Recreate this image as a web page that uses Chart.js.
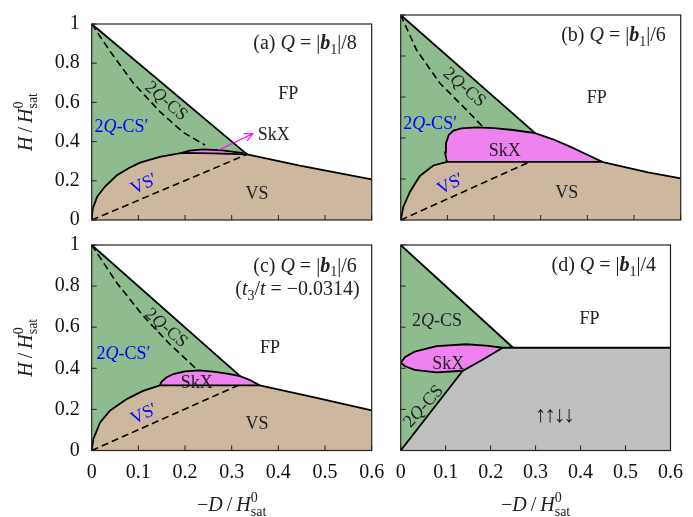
<!DOCTYPE html>
<html lang="en">
<head>
<meta charset="UTF-8">
<title>Phase diagrams</title>
<script src="https://cdn.jsdelivr.net/npm/chart.js"></script>
<style>
  body { margin: 0; background: #fff; }
  .panel { position: absolute; left: 0; top: 0; width: 693px; height: 517px; }
</style>
</head>
<body>
<div class="panel"><canvas id="pa"></canvas></div>
<div class="panel"><canvas id="pb"></canvas></div>
<div class="panel"><canvas id="pc"></canvas></div>
<div class="panel"><canvas id="pd"></canvas></div>
<script>
// axes
const X_MAX = 0.6, Y_MAX = 1;
const xTickLabels = ['0', '0.1', '0.2', '0.3', '0.4', '0.5', '0.6'];
const yTickLabels = ['0', '0.2', '0.4', '0.6', '0.8', '1'];

// (a) Q = |b1|/8  -- phase boundaries as [-D/Hsat, H/Hsat]
const aFpLine = [[0, 1], [0.333, 0.335]];
const aVsTop = [[0, 0], [0.002, 0.057], [0.012, 0.12], [0.0286, 0.171], [0.054, 0.228], [0.08, 0.265],
                [0.1036, 0.293], [0.146, 0.322], [0.193, 0.342], [0.26, 0.34], [0.333, 0.335]];
const aVsFp = [[0.333, 0.335], [0.446, 0.277], [0.6, 0.207]];
const aSkx = [[0.193, 0.342], [0.21, 0.354], [0.239, 0.36], [0.28, 0.355], [0.325, 0.341]];
const aDashUp = [[0, 1], [0.039, 0.862], [0.089, 0.699], [0.146, 0.553], [0.196, 0.447], [0.243, 0.382]];
const aDashLow = [[0, 0], [0.333, 0.335]];
const aArrow = [[0.272, 0.357], [0.345, 0.44]];

// (b) Q = |b1|/6
const bFpLine = [[0, 1], [0.288, 0.424]];
const bVsTop = [[0, 0], [0.0057, 0.065], [0.02, 0.138], [0.041, 0.215], [0.07, 0.266], [0.099, 0.284], [0.431, 0.284]];
const bVsFp = [[0.431, 0.284], [0.53, 0.232], [0.6, 0.203]];
const bSkx = [[0.099, 0.284], [0.095, 0.33], [0.097, 0.374], [0.103, 0.415], [0.113, 0.436], [0.13, 0.447],
              [0.163, 0.452], [0.2, 0.448], [0.241, 0.439], [0.288, 0.424], [0.325, 0.395], [0.363, 0.358],
              [0.4, 0.318], [0.431, 0.285]];
const bDashUp = [[0, 1], [0.034, 0.829], [0.084, 0.667], [0.141, 0.537], [0.177, 0.452]];
const bDashLow = [[0, 0], [0.277, 0.284]];

// (c) Q = |b1|/6, t3/t = -0.0314
const cFpLine = [[0, 1], [0.318, 0.362]];
const cVsTop = [[0, 0], [0.0036, 0.056], [0.018, 0.137], [0.039, 0.194], [0.075, 0.25], [0.11, 0.29],
                [0.146, 0.317], [0.36, 0.317]];
const cVsFp = [[0.36, 0.317], [0.47, 0.262], [0.6, 0.195]];
const cSkx = [[0.146, 0.317], [0.15, 0.335], [0.16, 0.355], [0.175, 0.372], [0.2, 0.385], [0.23, 0.39],
              [0.26, 0.384], [0.29, 0.374], [0.318, 0.362], [0.34, 0.342], [0.36, 0.317]];
const cDashUp = [[0, 1], [0.054, 0.815], [0.111, 0.653], [0.168, 0.516], [0.225, 0.395]];
const cDashLow = [[0, 0], [0.314, 0.317]];

// (d) Q = |b1|/4
const dFpLine = [[0, 1], [0.25, 0.5]];
const dUddLine = [[0.227, 0.5], [0.6, 0.5]];
const dUddLeft = [[0, 0], [0.138, 0.388]];
const dSkxUpper = [[0, 0.427], [0.01, 0.455], [0.031, 0.481], [0.08, 0.508], [0.145, 0.517], [0.19, 0.51], [0.227, 0.5]];
const dSkxLower = [[0, 0.427], [0.01, 0.41], [0.031, 0.392], [0.08, 0.38], [0.138, 0.388], [0.181, 0.44], [0.227, 0.5]];

const GREEN = '#8fbc8f', TAN = '#cdb89f', PINK = '#ee82ee', GRAY = '#c0c0c0';
const BLUE = '#0000ff', INK = '#222';
const SERIF = '"Liberation Serif", "Times New Roman", "DejaVu Serif", serif';

// text labels (data coordinates)
const aLabels = [
  { x: 0.568, y: 0.905, size: 20, align: 'right', parts: [['(a) '], ['Q', 'i'], [' = |'], ['b', 'bi'], ['1', 'sub'], ['|/8']] },
  { x: 0.421, y: 0.647, parts: [['FP']] },
  { x: 0.161, y: 0.61, angle: 41, parts: [['2'], ['Q', 'i'], ['-CS']] },
  { x: 0.064, y: 0.48, color: BLUE, parts: [['2'], ['Q', 'i'], ['-CS\u2032']] },
  { x: 0.111, y: 0.187, angle: -26, color: BLUE, parts: [['VS\u2032']] },
  { x: 0.354, y: 0.138, parts: [['VS']] },
  { x: 0.39, y: 0.44, parts: [['SkX']] }
];
const bLabels = [
  { x: 0.568, y: 0.905, size: 20, align: 'right', parts: [['(b) '], ['Q', 'i'], [' = |'], ['b', 'bi'], ['1', 'sub'], ['|/6']] },
  { x: 0.42, y: 0.6, parts: [['FP']] },
  { x: 0.138, y: 0.65, angle: 41, parts: [['2'], ['Q', 'i'], ['-CS']] },
  { x: 0.063, y: 0.472, color: BLUE, parts: [['2'], ['Q', 'i'], ['-CS\u2032']] },
  { x: 0.223, y: 0.341, parts: [['SkX']] },
  { x: 0.106, y: 0.179, angle: -27, color: BLUE, parts: [['VS\u2032']] },
  { x: 0.356, y: 0.138, parts: [['VS']] }
];
const cLabels = [
  { x: 0.457, y: 0.903, size: 20, parts: [['(c) '], ['Q', 'i'], [' = |'], ['b', 'bi'], ['1', 'sub'], ['|/6']] },
  { x: 0.441, y: 0.79, size: 20, parts: [['('], ['t', 'i'], ['3', 'sub'], ['/'], ['t', 'i'], [' = \u22120.0314)']] },
  { x: 0.382, y: 0.505, parts: [['FP']] },
  { x: 0.161, y: 0.6, angle: 41, parts: [['2'], ['Q', 'i'], ['-CS']] },
  { x: 0.068, y: 0.473, color: BLUE, parts: [['2'], ['Q', 'i'], ['-CS\u2032']] },
  { x: 0.225, y: 0.335, parts: [['SkX']] },
  { x: 0.111, y: 0.181, angle: -26, color: BLUE, parts: [['VS\u2032']] },
  { x: 0.354, y: 0.132, parts: [['VS']] }
];
const dLabels = [
  { x: 0.568, y: 0.905, size: 20, align: 'right', parts: [['(d) '], ['Q', 'i'], [' = |'], ['b', 'bi'], ['1', 'sub'], ['|/4']] },
  { x: 0.42, y: 0.645, parts: [['FP']] },
  { x: 0.081, y: 0.637, parts: [['2'], ['Q', 'i'], ['-CS']] },
  { x: 0.049, y: 0.218, angle: -48, parts: [['2'], ['Q', 'i'], ['-CS']] },
  { x: 0.106, y: 0.427, parts: [['SkX']] },
  { x: 0.341, y: 0.178, size: 23, spacing: '-2px', parts: [['\u2191\u2191\u2193\u2193']] }
];
const yTitleParts = [['H', 'i'], ['\u2009/\u2009'], ['H', 'i'], [['0', 'sat'], 'ss']];
const xTitleParts = [['\u2212'], ['D', 'i'], ['\u2009/\u2009'], ['H', 'i'], [['0', 'sat'], 'ss']];

const pts = arr => arr.map(([x, y]) => ({ x, y }));
const rev = arr => arr.slice().reverse();

function region(data, color, order) {
  return { data: pts(data), showLine: true, fill: 'shape', backgroundColor: color,
           borderColor: 'rgba(0,0,0,0)', borderWidth: 0, pointRadius: 0, tension: 0, order };
}
function edge(data, dashed) {
  return { data: pts(data), showLine: true, fill: false, borderColor: '#000',
           borderWidth: dashed ? 1.6 : 1.8, borderDash: dashed ? [7, 4] : [],
           pointRadius: 0, tension: 0, order: 1 };
}

function fontFor(style, size) {
  const s = (style === 'sub' || style === 'sup' || style === 'ss') ? size * 0.7 : size;
  const f = style === 'i' ? 'italic ' : style === 'bi' ? 'italic bold ' : '';
  return f + s + 'px ' + SERIF;
}
function measure(ctx, p, size) {
  const [t, st] = p;
  ctx.font = fontFor(st, size);
  if (st === 'ss') return Math.max(ctx.measureText(t[0]).width, ctx.measureText(t[1]).width);
  return ctx.measureText(t).width;
}
function drawRich(ctx, parts, x, y, o) {
  const size = o.size || 18;
  ctx.save();
  ctx.translate(x, y);
  ctx.rotate((o.angle || 0) * Math.PI / 180);
  ctx.fillStyle = o.color || INK;
  ctx.textBaseline = 'alphabetic';
  ctx.textAlign = 'left';
  ctx.letterSpacing = o.spacing || '0px';
  const total = parts.reduce((w, p) => w + measure(ctx, p, size), 0);
  let cx = o.align === 'right' ? -total : o.align === 'left' ? 0 : -total / 2;
  const base = size * 0.33;
  for (const p of parts) {
    const [t, st] = p;
    const w = measure(ctx, p, size);
    if (st === 'ss') {
      ctx.fillText(t[0], cx, base - size * 0.42);
      ctx.fillText(t[1], cx, base + size * 0.26);
    } else {
      const dy = st === 'sub' ? size * 0.24 : st === 'sup' ? -size * 0.42 : 0;
      ctx.fillText(t, cx, base + dy);
    }
    cx += w;
  }
  ctx.restore();
}

function decoPlugin(deco) {
  return {
    id: 'deco',
    afterDraw(chart) {
      const { ctx, chartArea: a, scales: { x, y } } = chart;
      ctx.save();
      ctx.strokeStyle = INK;
      ctx.lineWidth = 1;
      x.ticks.forEach((t, i) => {
        const px = x.getPixelForTick(i);
        ctx.beginPath(); ctx.moveTo(px, a.bottom); ctx.lineTo(px, a.bottom - 5); ctx.stroke();
      });
      y.ticks.forEach((t, i) => {
        const py = y.getPixelForTick(i);
        ctx.beginPath(); ctx.moveTo(a.left, py); ctx.lineTo(a.left + 5, py); ctx.stroke();
      });
      ctx.lineWidth = 1.2;
      ctx.strokeRect(a.left, a.top, a.right - a.left, a.bottom - a.top);

      if (deco.arrow) {
        const [p0, p1] = deco.arrow.map(([vx, vy]) => [x.getPixelForValue(vx), y.getPixelForValue(vy)]);
        const ang = Math.atan2(p1[1] - p0[1], p1[0] - p0[0]);
        ctx.strokeStyle = '#ff00ff';
        ctx.lineWidth = 1.2;
        ctx.beginPath();
        ctx.moveTo(p0[0], p0[1]); ctx.lineTo(p1[0], p1[1]);
        ctx.moveTo(p1[0] - 9 * Math.cos(ang - 0.45), p1[1] - 9 * Math.sin(ang - 0.45));
        ctx.lineTo(p1[0], p1[1]);
        ctx.lineTo(p1[0] - 9 * Math.cos(ang + 0.45), p1[1] - 9 * Math.sin(ang + 0.45));
        ctx.stroke();
      }
      deco.labels.forEach(l => drawRich(ctx, l.parts, x.getPixelForValue(l.x), y.getPixelForValue(l.y), l));
      if (deco.showY) drawRich(ctx, yTitleParts, 25, (a.top + a.bottom) / 2, { size: 20, angle: -90 });
      if (deco.showX) drawRich(ctx, xTitleParts, (a.left + a.right) / 2, 504, { size: 20 });
      ctx.restore();
    }
  };
}

function makePanel(id, box, datasets, deco) {
  const yW = 60, xH = 40;
  new Chart(document.getElementById(id), {
    type: 'scatter',
    data: { datasets },
    options: {
      responsive: true,
      maintainAspectRatio: false,
      animation: false,
      events: [],
      layout: { padding: { left: box.l - yW, top: box.t, right: 693 - box.r, bottom: 517 - box.b - xH } },
      plugins: { legend: { display: false }, tooltip: { enabled: false } },
      scales: {
        x: {
          type: 'linear', min: 0, max: X_MAX,
          afterFit: s => { s.height = xH; },
          grid: { display: false, drawTicks: false },
          border: { display: false },
          ticks: { display: deco.showX, stepSize: 0.1, padding: 10, color: '#111', maxRotation: 0, autoSkip: false,
                   font: { family: SERIF, size: 20 }, callback: (v, i) => xTickLabels[i] }
        },
        y: {
          type: 'linear', min: 0, max: Y_MAX,
          afterFit: s => { s.width = yW; },
          grid: { display: false, drawTicks: false },
          border: { display: false },
          ticks: { display: deco.showY, stepSize: 0.2, padding: 12, color: '#111', autoSkip: false,
                   font: { family: SERIF, size: 20 }, callback: (v, i) => yTickLabels[i] }
        }
      }
    },
    plugins: [decoPlugin(deco)]
  });
}

const corner = [[X_MAX, 0], [0, 0]];

makePanel('pa', { l: 91.7, t: 15, r: 371.7, b: 220 }, [
  region([...aFpLine, ...rev(aVsTop)], GREEN, 10),
  region([...aVsTop, ...aVsFp.slice(1), ...corner], TAN, 9),
  region(aSkx, PINK, 8),
  edge(aFpLine), edge(aVsTop), edge(aVsFp), edge(aSkx),
  edge(aDashUp, true), edge(aDashLow, true)
], { labels: aLabels, arrow: aArrow, showX: false, showY: true });

makePanel('pb', { l: 400.7, t: 15, r: 680.7, b: 220 }, [
  region([...bFpLine, ...rev(bVsTop.slice(0, -1))], GREEN, 10),
  region([...bVsTop, ...bVsFp.slice(1), ...corner], TAN, 9),
  region(bSkx, PINK, 8),
  edge(bFpLine), edge(bVsTop), edge(bVsFp), edge(bSkx),
  edge(bDashUp, true), edge(bDashLow, true)
], { labels: bLabels, showX: false, showY: false });

makePanel('pc', { l: 91.7, t: 245, r: 371.7, b: 450.5 }, [
  region([...cFpLine, ...rev(cVsTop.slice(0, -1))], GREEN, 10),
  region([...cVsTop, ...cVsFp.slice(1), ...corner], TAN, 9),
  region(cSkx, PINK, 8),
  edge(cFpLine), edge(cVsTop), edge(cVsFp), edge(cSkx),
  edge(cDashUp, true), edge(cDashLow, true)
], { labels: cLabels, showX: true, showY: true });

makePanel('pd', { l: 400.7, t: 245, r: 680.7, b: 450.5 }, [
  region([[0, 0], ...dFpLine], GREEN, 10),
  region([...dUddLeft, ...dSkxLower.filter(p => p[0] > dUddLeft[1][0]), ...dUddLine.slice(1), ...corner], GRAY, 9),
  region([...dSkxUpper, ...rev(dSkxLower)], PINK, 8),
  edge(dFpLine), edge(dUddLine), edge(dUddLeft), edge(dSkxUpper), edge(dSkxLower)
], { labels: dLabels, showX: true, showY: false });
</script>
</body>
</html>
